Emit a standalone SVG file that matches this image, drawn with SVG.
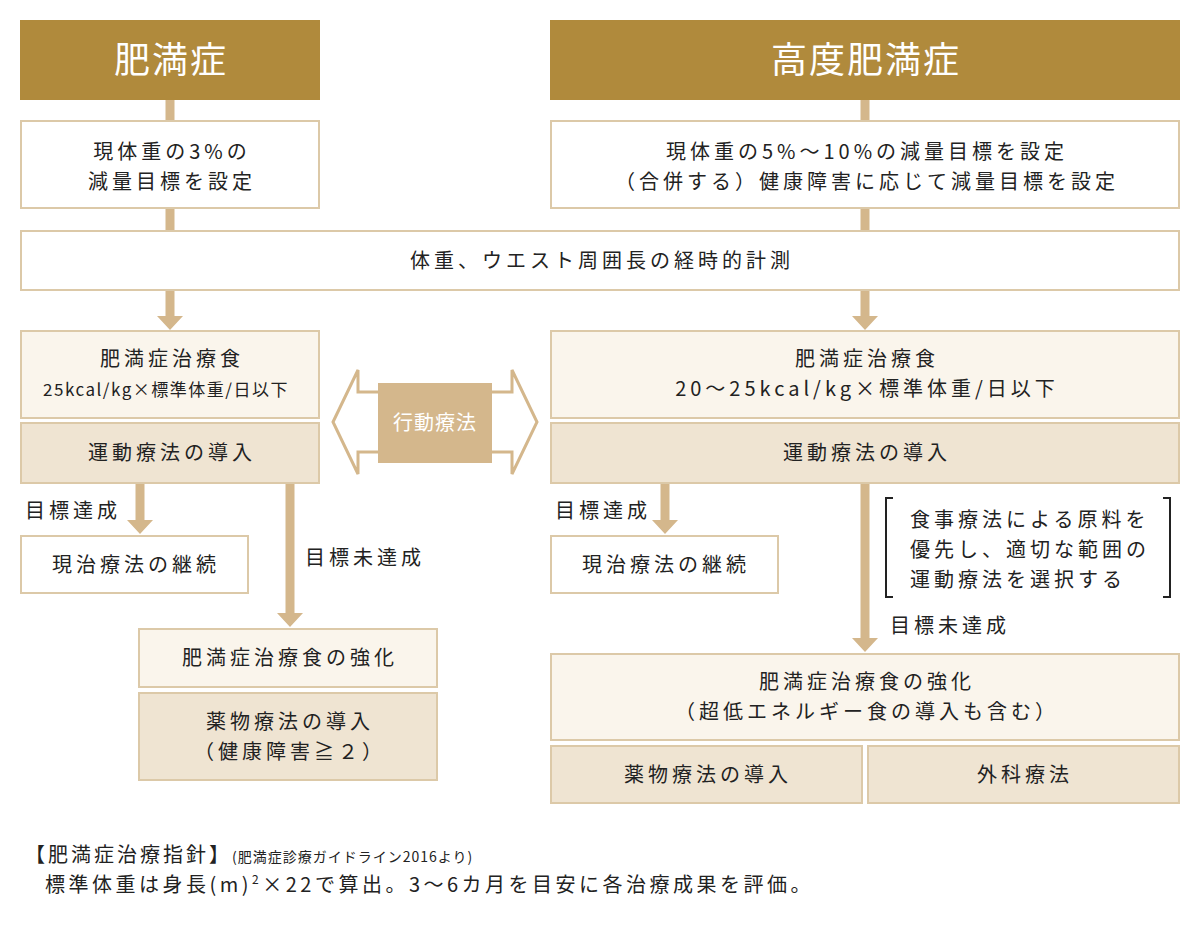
<svg xmlns="http://www.w3.org/2000/svg" width="1200" height="930" viewBox="0 0 1200 930">
<defs>
<style>
text{font-family:"Noto Sans CJK JP","Noto Sans",sans-serif;fill:#222;font-size:20px;letter-spacing:4px}
.c{text-anchor:middle}
.h{fill:#b08a3c}
.ht{fill:#fff;font-size:36px;letter-spacing:2px}
.w{fill:#fff;stroke:#dcc9a8;stroke-width:2}
.l{fill:#faf5ec;stroke:#dcc9a8;stroke-width:2}
.m{fill:#efe4d2;stroke:#dcc9a8;stroke-width:2}
.ln{stroke:#d4b78c;stroke-width:9;fill:none}
.ah{fill:#d4b78c}
</style>
</defs>
<rect width="1200" height="930" fill="#fff"/>
<g id="connectors">
<path class="ln" d="M170 100V120M170 208V230M865 100V120M865 208V230M170 290V316M865 290V316M140 483V520M290 483V613M665 483V520M865 483V638"/>
<path class="ah" d="M157 316H183L170 330ZM852 316H878L865 330ZM127 520H153L140 534ZM277 613H303L290 627ZM652 520H678L665 534ZM852 638H878L865 652Z"/>
</g>
<g id="h1"><rect class="h" x="20" y="20" width="300" height="80"/><text class="c ht" x="171" y="73">肥満症</text></g>
<g id="h2"><rect class="h" x="550" y="20" width="630" height="80"/><text class="c ht" x="866" y="73">高度肥満症</text></g>
<g id="n1"><rect class="w" x="21" y="121" width="298" height="87"/><text class="c" x="172" y="159">現体重の3%の</text><text class="c" x="172" y="189">減量目標を設定</text></g>
<g id="n2"><rect class="w" x="551" y="121" width="628" height="87"/><text class="c" x="867" y="159">現体重の5%〜10%の減量目標を設定</text><text class="c" x="867" y="189">（合併する）健康障害に応じて減量目標を設定</text></g>
<g id="n3"><rect class="w" x="21" y="231" width="1158" height="59"/><text class="c" x="602" y="268">体重、ウエスト周囲長の経時的計測</text></g>
<g id="n4"><rect class="l" x="21" y="331" width="298" height="87"/><text class="c" x="172" y="366">肥満症治療食</text><text class="c" x="166" y="396" style="font-size:17px;letter-spacing:1.5px">25kcal/kg×標準体重/日以下</text></g>
<g id="n5"><rect class="m" x="21" y="423" width="298" height="60"/><text class="c" x="172" y="460">運動療法の導入</text></g>
<g id="n6"><rect class="l" x="551" y="331" width="628" height="87"/><text class="c" x="867" y="366">肥満症治療食</text><text class="c" x="867" y="396">20〜25kcal/kg×標準体重/日以下</text></g>
<g id="n7"><rect class="m" x="551" y="423" width="628" height="60"/><text class="c" x="867" y="460">運動療法の導入</text></g>
<g id="beh">
<polygon points="333,422 358,370 358,392 512,392 512,370 537,422 512,474 512,452 358,452 358,474" fill="#fff" stroke="#d4b78c" stroke-width="3"/>
<rect x="378" y="383" width="114" height="80" fill="#d4b78c"/>
<text class="c" x="435" y="430" style="fill:#fff;letter-spacing:1px">行動療法</text>
</g>
<text x="25" y="518">目標達成</text>
<text x="305" y="565">目標未達成</text>
<text x="555" y="518">目標達成</text>
<text x="890" y="633">目標未達成</text>
<g id="n8"><rect class="w" x="21" y="536" width="227" height="57"/><text class="c" x="136" y="572">現治療法の継続</text></g>
<g id="n9"><rect class="w" x="551" y="536" width="227" height="57"/><text class="c" x="666" y="572">現治療法の継続</text></g>
<g id="note"><path d="M893 498H886V597H893M1163 498H1170V597H1163" fill="none" stroke="#222" stroke-width="2"/>
<text x="910" y="527">食事療法による原料を</text><text x="910" y="557">優先し、適切な範囲の</text><text x="910" y="587">運動療法を選択する</text></g>
<g id="n10"><rect class="l" x="139" y="629" width="298" height="58"/><text class="c" x="290" y="665">肥満症治療食の強化</text></g>
<g id="n11"><rect class="m" x="139" y="693" width="298" height="87"/><text class="c" x="290" y="729">薬物療法の導入</text><text class="c" x="290" y="759">（健康障害≧２）</text></g>
<g id="n12"><rect class="l" x="551" y="654" width="628" height="86"/><text class="c" x="867" y="689">肥満症治療食の強化</text><text class="c" x="867" y="719">（超低エネルギー食の導入も含む）</text></g>
<g id="n13"><rect class="m" x="551" y="746" width="311" height="57"/><text class="c" x="708" y="782">薬物療法の導入</text></g>
<g id="n14"><rect class="m" x="868" y="746" width="311" height="57"/><text class="c" x="1025" y="782">外科療法</text></g>
<text x="25" y="862" style="letter-spacing:3px">【肥満症治療指針】<tspan style="font-size:14px;letter-spacing:1px">(肥満症診療ガイドライン2016より)</tspan></text>
<text x="45" y="892" style="letter-spacing:3.5px">標準体重は身長(m)<tspan font-size="12" dy="-8">2</tspan><tspan dy="8">×22で算出。3〜6カ月を目安に各治療成果を評価。</tspan></text>
</svg>
